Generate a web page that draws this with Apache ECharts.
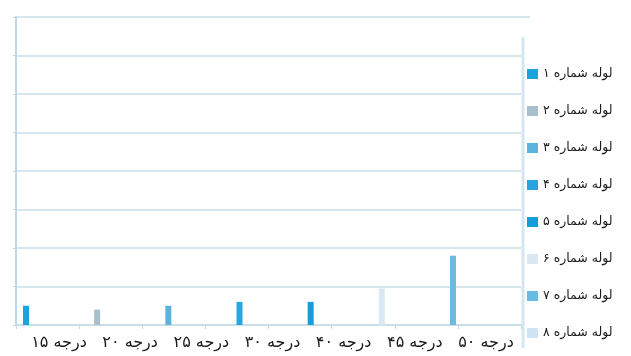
<!DOCTYPE html>
<html>
<head>
<meta charset="utf-8">
<script src="https://cdn.jsdelivr.net/npm/echarts@6/dist/echarts.min.js"></script>
<style>
  html, body { margin: 0; padding: 0; background: #ffffff; }
  #chart { width: 631px; height: 356px; }
</style>
</head>
<body>
<div id="chart"></div>
<script>
// Angle categories along the bottom axis
const categories = ['درجه ۱۵', 'درجه ۲۰', 'درجه ۲۵', 'درجه ۳۰', 'درجه ۴۰', 'درجه ۴۵', 'درجه ۵۰'];

// Series names (pipes) and their colours
const seriesNames = ['لوله شماره ۱', 'لوله شماره ۲', 'لوله شماره ۳', 'لوله شماره ۴',
                     'لوله شماره ۵', 'لوله شماره ۶', 'لوله شماره ۷', 'لوله شماره ۸'];
const seriesColors = ['#1ba3dc', '#a8bfcc', '#5bb3de', '#27a5dc',
                      '#149ddb', '#dce8f1', '#6abbe4', '#cfe3f2'];

// Values per pipe, one per angle category
const pipe1 = [0.5, 0, 0, 0, 0, 0, 0];
const pipe2 = [0, 0.4, 0, 0, 0, 0, 0];
const pipe3 = [0, 0, 0.5, 0, 0, 0, 0];
const pipe4 = [0, 0, 0, 0.6, 0, 0, 0];
const pipe5 = [0, 0, 0, 0, 0.6, 0, 0];
const pipe6 = [0, 0, 0, 0, 0, 0.95, 0];
const pipe7 = [0, 0, 0, 0, 0, 0, 1.8];
const pipe8 = [0, 0, 0, 0, 0, 0, 0];
const pipeValues = [pipe1, pipe2, pipe3, pipe4, pipe5, pipe6, pipe7, pipe8];

const FONT = "'DejaVu Sans', 'Noto Sans', sans-serif";
const gridLineColor = '#c9dfea';

const chart = echarts.init(document.getElementById('chart'), null, { renderer: 'canvas' });

chart.setOption({
  backgroundColor: '#ffffff',
  animation: false,
  grid: [
    // frame: gridlines, axis lines and ticks
    { left: 16, right: 110, top: 17, bottom: 31 },
    // bars and category labels (bars sit on the category points)
    { left: 26, width: 427, top: 17, bottom: 31 }
  ],
  xAxis: [
    {
      gridIndex: 0, type: 'value', min: 0, max: 8, interval: 1,
      axisLine: { show: true, lineStyle: { color: '#c3dbe7', width: 1.5 } },
      axisTick: { show: true, length: 4, lineStyle: { color: '#c3dbe7' } },
      axisLabel: { show: false },
      splitLine: { show: false }
    },
    {
      gridIndex: 1, type: 'category', data: categories, boundaryGap: false,
      axisLine: { show: false },
      axisTick: { show: false },
      axisLabel: {
        show: true, margin: 10, color: '#1a1a1a', fontSize: 16, fontFamily: FONT,
        interval: 0, padding: [0, 0, 0, 66]
      }
    }
  ],
  yAxis: [
    {
      gridIndex: 0, type: 'value', min: 0, max: 8, interval: 1,
      axisLine: { show: true, lineStyle: { color: '#bcd8e6', width: 2 } },
      axisTick: { show: true, length: 3, lineStyle: { color: '#bcd8e6' } },
      axisLabel: { show: false },
      splitLine: { show: true, lineStyle: { color: gridLineColor, width: 1.5 } }
    },
    {
      gridIndex: 1, type: 'value', min: 0, max: 8, interval: 1,
      axisLine: { show: false }, axisTick: { show: false },
      axisLabel: { show: false }, splitLine: { show: false }
    }
  ],
  legend: {
    orient: 'vertical',
    left: 522, top: 61,
    itemWidth: 11, itemHeight: 10, itemGap: 21,
    icon: 'rect',
    textStyle: { color: '#1a1a1a', fontSize: 12.5, fontFamily: FONT, lineHeight: 16 },
    data: seriesNames
  },
  graphic: [
    {
      type: 'line', z: 0,
      shape: { x1: 523, y1: 37, x2: 523, y2: 348 },
      style: { stroke: '#d3e7f3', lineWidth: 3 }
    },
    {
      type: 'line', z: 0,
      shape: { x1: 521, y1: 17, x2: 530, y2: 17 },
      style: { stroke: gridLineColor, lineWidth: 1.5 }
    }
  ],
  series: seriesNames.map((name, i) => ({
    name: name,
    type: 'bar',
    xAxisIndex: 1,
    yAxisIndex: 1,
    barWidth: 6,
    barGap: '-100%',
    clip: false,
    itemStyle: { color: seriesColors[i] },
    data: pipeValues[i]
  }))
});
</script>
</body>
</html>
